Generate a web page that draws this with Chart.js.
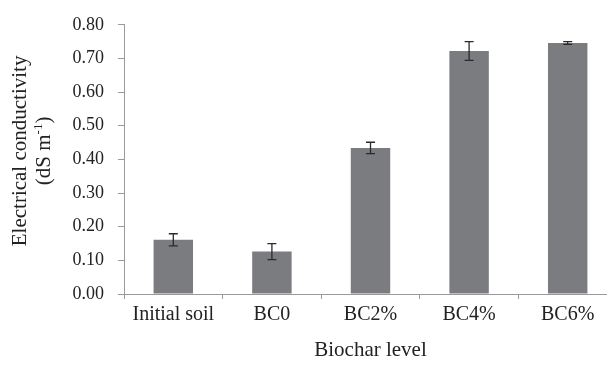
<!DOCTYPE html>
<html>
<head>
<meta charset="utf-8">
<script src="https://cdn.jsdelivr.net/npm/chart.js@4"></script>
<style>
  html, body { margin: 0; padding: 0; background: #fff; overflow: hidden; }
  #wrap { width: 617px; height: 365px; }
</style>
</head>
<body>
<div id="wrap"><canvas id="chart" width="617" height="365"></canvas></div>
<script>
// Electrical conductivity by biochar level (mean ± error)
const categories = ['Initial soil', 'BC0', 'BC2%', 'BC4%', 'BC6%'];
const ecValues = [0.161, 0.126, 0.434, 0.722, 0.746];
const ecErrors = [0.018, 0.024, 0.017, 0.028, 0.004];
const yTicks = [0, 0.1, 0.2, 0.3, 0.4, 0.5, 0.6, 0.7, 0.8];

const SERIF = '"Liberation Serif", "Times New Roman", serif';
const AXIS_COLOR = '#9a9a9a';
const TEXT_COLOR = '#222222';

// Whiskers with caps on each bar
const errorBars = {
  id: 'errorBars',
  afterDatasetsDraw(chart) {
    const { ctx } = chart;
    const y = chart.scales.y;
    const meta = chart.getDatasetMeta(0);
    ctx.save();
    ctx.strokeStyle = '#2a2a2a';
    ctx.lineWidth = 1.3;
    meta.data.forEach((bar, i) => {
      const v = ecValues[i], e = ecErrors[i];
      const top = y.getPixelForValue(v + e);
      const bot = y.getPixelForValue(v - e);
      const x = bar.x;
      const cap = 4.5;
      ctx.beginPath();
      ctx.moveTo(x, top); ctx.lineTo(x, bot);
      ctx.moveTo(x - cap, top); ctx.lineTo(x + cap, top);
      ctx.moveTo(x - cap, bot); ctx.lineTo(x + cap, bot);
      ctx.stroke();
    });
    ctx.restore();
  }
};

// Two-line rotated y-axis title with a superscript unit
const yTitle = {
  id: 'yTitle',
  afterDraw(chart) {
    const { ctx, chartArea } = chart;
    const cy = (chartArea.top + chartArea.bottom) / 2 - 8.5;
    ctx.save();
    ctx.fillStyle = TEXT_COLOR;
    ctx.textBaseline = 'alphabetic';
    ctx.translate(0, cy);
    ctx.rotate(-Math.PI / 2);
    // line 1
    ctx.font = '21px ' + SERIF;
    ctx.textAlign = 'center';
    ctx.fillText('Electrical conductivity', 0, 26);
    // line 2: "(dS m" + superscript "-1" + ")"
    const main = '21px ' + SERIF, sup = '13px ' + SERIF;
    ctx.font = main; const w1 = ctx.measureText('(dS m').width;
    ctx.font = sup;  const w2 = ctx.measureText('-1').width;
    ctx.font = main; const w3 = ctx.measureText(')').width;
    let x = -(w1 + w2 + w3) / 2;
    ctx.textAlign = 'left';
    ctx.font = main; ctx.fillText('(dS m', x, 50); x += w1;
    ctx.font = sup;  ctx.fillText('-1', x, 42); x += w2;
    ctx.font = main; ctx.fillText(')', x, 50);
    ctx.restore();
  }
};

new Chart(document.getElementById('chart'), {
  type: 'bar',
  data: {
    labels: categories,
    datasets: [{
      data: ecValues,
      backgroundColor: '#7b7c80',
      borderWidth: 0,
      barPercentage: 0.4,
      categoryPercentage: 1.0
    }]
  },
  options: {
    responsive: false,
    animation: false,
    events: [],
    layout: { padding: { top: 18, right: 0, bottom: 0, left: 0 } },
    plugins: { legend: { display: false }, tooltip: { enabled: false } },
    scales: {
      x: {
        offset: true,
        grid: {
          offset: true,
          drawOnChartArea: false,
          drawTicks: true,
          tickLength: 5,
          color: AXIS_COLOR
        },
        border: { color: AXIS_COLOR, width: 1 },
        ticks: {
          font: { family: SERIF, size: 20 },
          color: TEXT_COLOR,
          padding: 4,
          maxRotation: 0
        },
        title: {
          display: true,
          text: 'Biochar level',
          font: { family: SERIF, size: 21 },
          color: TEXT_COLOR,
          padding: { top: 0, bottom: 2 }
        },
        afterFit(scale) { scale.height = 71; }
      },
      y: {
        min: 0,
        max: 0.8,
        afterBuildTicks(scale) { scale.ticks = yTicks.map(v => ({ value: v })); },
        grid: {
          drawOnChartArea: false,
          drawTicks: true,
          tickLength: 6,
          color: AXIS_COLOR
        },
        border: { color: AXIS_COLOR, width: 1 },
        ticks: {
          font: { family: SERIF, size: 18 },
          color: TEXT_COLOR,
          padding: 14,
          callback: v => Number(v).toFixed(2)
        },
        afterFit(scale) { scale.width = 124; }
      }
    }
  },
  plugins: [errorBars, yTitle]
});
</script>
</body>
</html>
